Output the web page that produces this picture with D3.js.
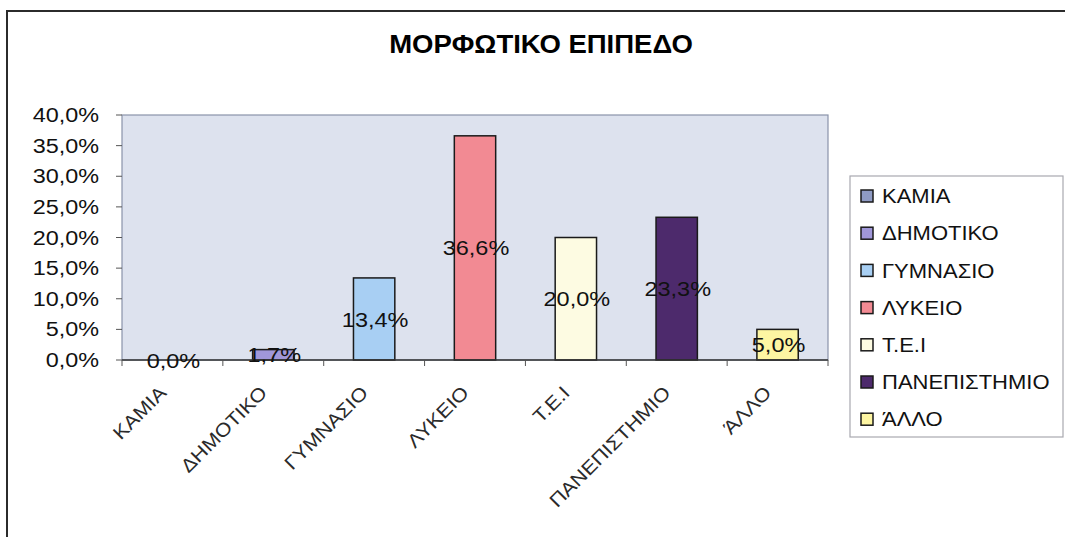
<!DOCTYPE html>
<html>
<head>
<meta charset="utf-8">
<script src="https://cdn.jsdelivr.net/npm/d3@7"></script>
<style>
  body { margin: 0; background: #fff; }
  text { font-family: Arial, "Liberation Sans", sans-serif; fill: #111; }
</style>
</head>
<body>
<div id="chart"></div>
<script>
const categories = ['ΚΑΜΙΑ', 'ΔΗΜΟΤΙΚΟ', 'ΓΥΜΝΑΣΙΟ', 'ΛΥΚΕΙΟ', 'Τ.Ε.Ι', 'ΠΑΝΕΠΙΣΤΗΜΙΟ', 'ΆΛΛΟ']
const values = [0.0, 1.7, 13.4, 36.6, 20.0, 23.3, 5.0]
const colors = ['#8f9bc4', '#a097d9', '#a8cff3', '#f28a93', '#fdfbe2', '#4d2a6c', '#fdf5a2']
const yTicks = [0, 5, 10, 15, 20, 25, 30, 35, 40]

const W = 1065, H = 537
const margin = { top: 115, left: 122 }
const width = 706, height = 245

const fmt = v => v.toFixed(1).replace('.', ',') + '%'

const svg = d3.select('#chart').append('svg')
  .attr('width', W)
  .attr('height', H)

// outer chart frame (only top and left edges are in view)
svg.append('path')
  .attr('d', 'M7,' + H + ' L7,11 L' + W + ',11')
  .attr('fill', 'none')
  .attr('stroke', '#2b2b2b')
  .attr('stroke-width', 2)

// title
svg.append('text')
  .attr('transform', 'translate(541, 53) scale(1.1, 1)')
  .attr('text-anchor', 'middle')
  .style('font-size', '25px')
  .style('font-weight', 'bold')
  .style('fill', '#000')
  .text('ΜΟΡΦΩΤΙΚΟ ΕΠΙΠΕΔΟ')

const x = d3.scaleBand()
  .domain(categories)
  .range([0, width])
  .paddingInner(0.59)
  .paddingOuter(0.295)

const y = d3.scaleLinear()
  .domain([0, 40])
  .range([height, 0])

const color = d3.scaleOrdinal().domain(categories).range(colors)

const g = svg.append('g')
  .attr('transform', 'translate(' + margin.left + ', ' + margin.top + ')')

// plot area
g.append('rect')
  .attr('width', width)
  .attr('height', height)
  .attr('fill', '#dde2ee')
  .attr('stroke', '#8a93aa')
  .attr('stroke-width', 1.2)

const data = categories.map((c, i) => ({ cat: c, value: values[i] }))

g.selectAll('rect.bar')
  .data(data).enter()
  .append('rect').classed('bar', true)
  .attr('x', d => x(d.cat))
  .attr('y', d => y(d.value))
  .attr('width', x.bandwidth())
  .attr('height', d => height - y(d.value))
  .attr('fill', d => color(d.cat))
  .attr('stroke', '#1a1a1a')
  .attr('stroke-width', 1.5)

// y axis ticks + labels
const step = x.step()
g.selectAll('line.ytick')
  .data(yTicks).enter()
  .append('line').classed('ytick', true)
  .attr('x1', -6).attr('x2', 0)
  .attr('y1', d => y(d)).attr('y2', d => y(d))
  .attr('stroke', '#555')

g.selectAll('text.ylab')
  .data(yTicks).enter()
  .append('text').classed('ylab', true)
  .attr('transform', d => 'translate(-23, ' + y(d) + ') scale(1.2, 1)')
  .attr('text-anchor', 'end')
  .attr('dy', '0.36em')
  .style('font-size', '19.5px')
  .text(d => fmt(d))

// x axis line + category boundary ticks
g.append('line')
  .attr('x1', 0).attr('x2', width)
  .attr('y1', height).attr('y2', height)
  .attr('stroke', '#333')
  .attr('stroke-width', 1.5)

g.selectAll('line.xtick')
  .data(d3.range(categories.length + 1)).enter()
  .append('line').classed('xtick', true)
  .attr('x1', i => i * step).attr('x2', i => i * step)
  .attr('y1', height).attr('y2', height + 6)
  .attr('stroke', '#555')

g.selectAll('text.xlab')
  .data(categories).enter()
  .append('text').classed('xlab', true)
  .attr('transform', d => 'translate(' + (x(d) + x.bandwidth() / 2 - 5) + ', ' + (height + 34) + ') rotate(-45) scale(1.12, 1)')
  .attr('text-anchor', 'end')
  .style('font-size', '19px')
  .style('fill', '#2a2a2a')
  .text(d => d)

// data labels, centred in each bar
g.selectAll('text.dlab')
  .data(data).enter()
  .append('text').classed('dlab', true)
  .attr('transform', d => 'translate(' + (x(d.cat) + x.bandwidth() / 2 + 1) + ', ' + (y(d.value / 2)) + ') scale(1.12, 1)')
  .attr('text-anchor', 'middle')
  .attr('dy', '0.36em')
  .style('font-size', '21px')
  .text(d => fmt(d.value))

// legend
const legend = svg.append('g').attr('transform', 'translate(850, 176)')
legend.append('rect')
  .attr('width', 213)
  .attr('height', 261)
  .attr('fill', '#fff')
  .attr('stroke', '#a8a8b0')
  .attr('stroke-width', 1.2)

const item = legend.selectAll('g.item')
  .data(categories).enter()
  .append('g').classed('item', true)
  .attr('transform', (d, i) => 'translate(0, ' + (20 + i * 37.2) + ')')

item.append('rect')
  .attr('x', 11).attr('y', -6)
  .attr('width', 12).attr('height', 12)
  .attr('fill', d => color(d))
  .attr('stroke', '#1a1a1a')
  .attr('stroke-width', 1.5)

item.append('text')
  .attr('transform', 'translate(32, 0) scale(1.1, 1)')
  .attr('dy', '0.36em')
  .style('font-size', '20px')
  .text(d => d)
</script>
</body>
</html>
